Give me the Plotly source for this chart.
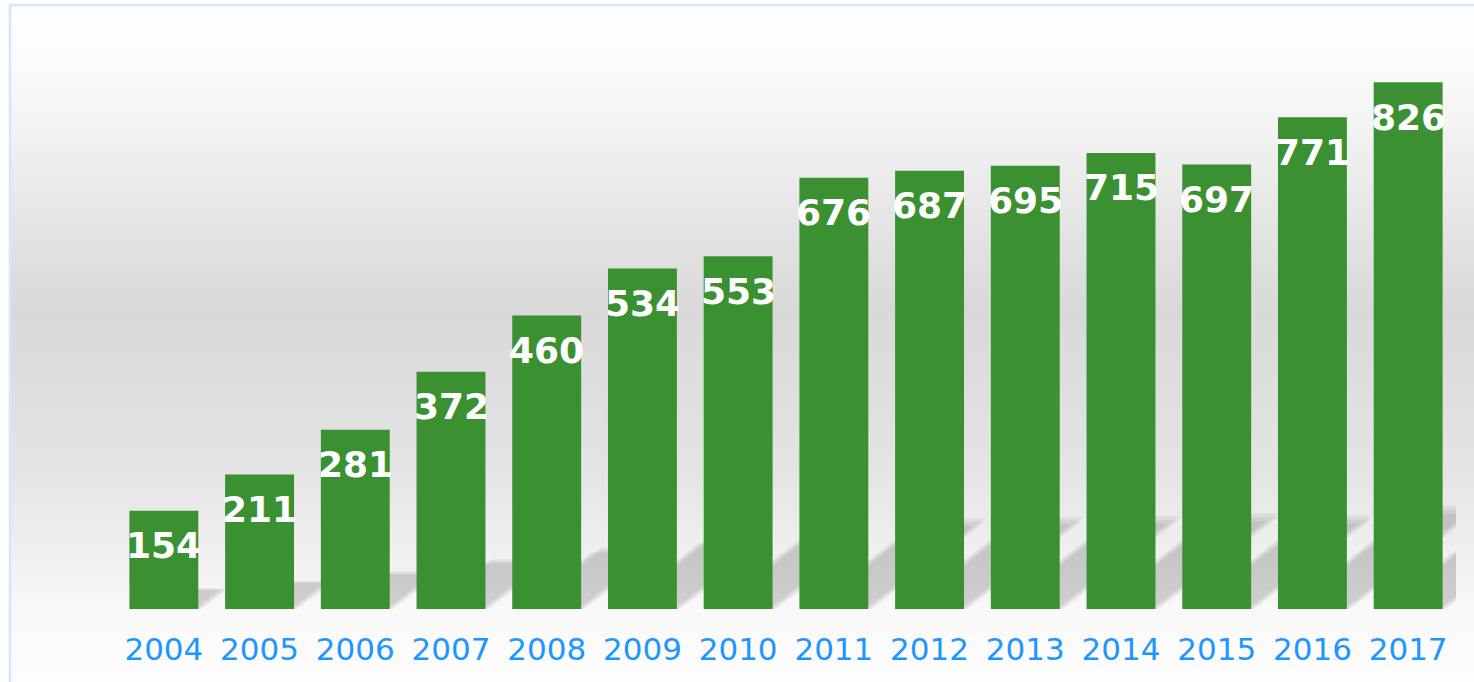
import plotly.graph_objects as go

# ---- data ----
years = [2004, 2005, 2006, 2007, 2008, 2009, 2010, 2011, 2012, 2013, 2014, 2015, 2016, 2017]
values = [154, 211, 281, 372, 460, 534, 553, 676, 687, 695, 715, 697, 771, 826]
tick_labels = [str(y) for y in years]

# ---- layout geometry ----
W, H = 1474, 682
ML, MR, MT, MB = 116, 18, 35, 73
PW, PH = W - ML - MR, H - MT - MB
YMAX = 900
BARW = 0.72

def xp(px):
    return (px - ML) / PW

def yp(py):
    return (H - MB - py) / PH

fig = go.Figure()

fig.add_trace(go.Bar(
    x=years, y=values,
    width=BARW,
    marker=dict(color="#3b9132", line=dict(width=0)),
    hoverinfo="x+y",
))

shapes = []

# background vertical gradient (inside the bordered frame)
stops = [(0, 255), (60, 252), (120, 244), (200, 232), (260, 223), (310, 217),
         (370, 221), (470, 228), (540, 238), (610, 249), (682, 253)]

def grey_at(py):
    for (a, ca), (b, cb) in zip(stops[:-1], stops[1:]):
        if a <= py <= b:
            t = (py - a) / (b - a)
            return round(ca + (cb - ca) * t)
    return stops[-1][1]

step = 4
py = 5
while py < H:
    g = grey_at(py + step / 2)
    shapes.append(dict(
        type="rect", xref="paper", yref="paper", layer="below",
        x0=xp(10), x1=xp(W + 5), y0=yp(py + step + 0.5), y1=yp(py),
        fillcolor=f"rgb({g},{g},{g})", line=dict(width=0),
    ))
    py += step

# frame border
shapes.append(dict(
    type="path", xref="paper", yref="paper", layer="below",
    path=f"M {xp(10)},{yp(H + 5)} L {xp(10)},{yp(5)} L {xp(W + 5)},{yp(5)}",
    line=dict(color="#d2e7fa", width=2.5),
))

# soft sheared floor shadows behind bars
px_per_cat = PW / (len(years))
px_per_unit = PH / YMAX
SHEAR = 1.3
RATIO = 0.21
SW = 60 / px_per_cat
for yr, v in zip(years, values):
    h = RATIO * v
    s = SHEAR * h * px_per_unit / px_per_cat
    R = yr + BARW / 2
    for off, top in ((-0.035, 0.92), (0.0, 1.0), (0.035, 0.96)):
        x0 = R - SW + off
        x1 = R + off
        ht = h * top
        st = s * top
        shapes.append(dict(
            type="path", xref="x", yref="y", layer="below",
            path=f"M {x0},0 L {x1},0 L {x1 + st},{ht} L {x0 + st},{ht} Z",
            fillcolor="rgba(0,0,0,0.06)", line=dict(width=0),
        ))

annotations = []
for yr, v in zip(years, values):
    annotations.append(dict(
        x=yr, y=v, xref="x", yref="y", text=str(v), showarrow=False,
        yshift=-35, yanchor="middle", xanchor="center",
        font=dict(family="DejaVu Sans", size=36, color="white", weight="bold"),
    ))

fig.update_layout(
    width=W, height=H,
    margin=dict(l=ML, r=MR, t=MT, b=MB, pad=0),
    paper_bgcolor="white",
    plot_bgcolor="rgba(0,0,0,0)",
    showlegend=False,
    shapes=shapes,
    annotations=annotations,
    xaxis=dict(
        range=[years[0] - 0.5, years[-1] + 0.5],
        tickmode="array", tickvals=years, ticktext=tick_labels,
        showgrid=False, zeroline=False, showline=False, ticks="",
        tickfont=dict(family="DejaVu Sans", size=31, color="#1e96ff"),
        ticklabelstandoff=19,
    ),
    yaxis=dict(range=[0, YMAX], visible=False, showgrid=False, zeroline=False),
)

fig.write_html(
    "out.html",
    config={"displayModeBar": False},
    post_script="document.body.style.margin='0';document.body.style.overflow='hidden';",
)
